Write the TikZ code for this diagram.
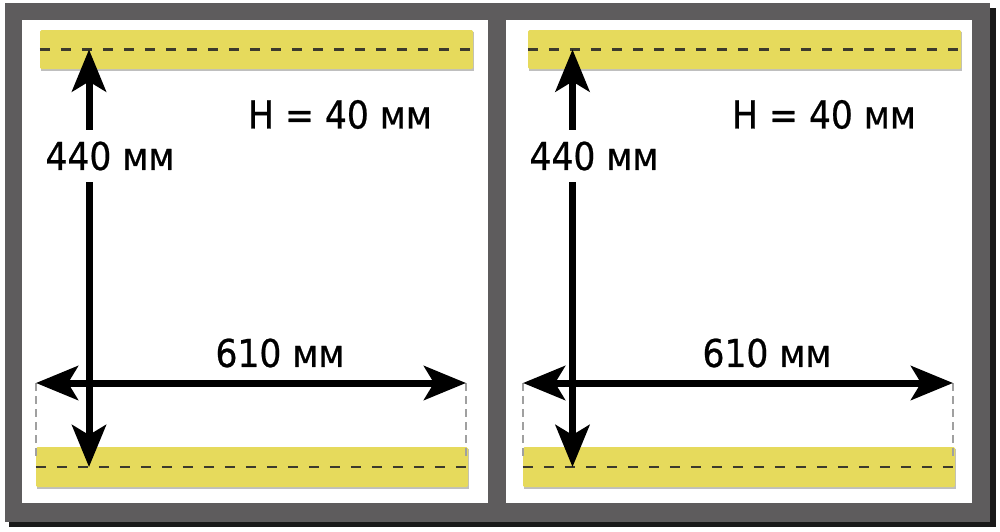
\documentclass[tikz,border=0pt]{standalone}
\usepackage{fontspec}
\setmainfont[FakeBold=0.6]{DejaVu Sans Condensed}
\usetikzlibrary{arrows.meta}
\definecolor{framegray}{RGB}{94,92,93}
\definecolor{baryellow}{RGB}{230,218,92}
\definecolor{dashdark}{RGB}{60,58,45}
\definecolor{guidegray}{RGB}{160,160,160}
\tikzset{
  bar/.style={fill=baryellow, draw=none, rounded corners=1.5pt, inner sep=0pt},
  barshadow/.style={fill=black!25},
  barline/.style={dashdark, line width=2.2pt, dash pattern=on 10pt off 11pt},
  dimarrow/.style={line width=7pt, {Stealth[length=42pt,width=34pt,inset=10pt]}-{Stealth[length=42pt,width=34pt,inset=10pt]}},
  guide/.style={guidegray, line width=1.5pt, dash pattern=on 8pt off 5pt},
  dimlabel/.style={inner sep=0pt, font=\fontsize{38.4}{46}\selectfont},
  gaplabel/.style={dimlabel, fill=white, inner xsep=2pt, inner ysep=11pt}
}
\begin{document}
\begin{tikzpicture}[x=1pt,y=-1pt]
\useasboundingbox (0,0) rectangle (1000,531);
\fill[white] (0,0) rectangle (1000,531);
% frame with shadow
\fill[black!90] (9,8) rectangle (996,527);
\fill[framegray] (5,3) rectangle (990,522);
\fill[white] (22,20) rectangle (488,503);
\fill[white] (506,20) rectangle (972,503);

% ---------- left panel ----------
\fill[barshadow] (41,32) rectangle (474,71);
\node[bar, minimum width=433pt, minimum height=39pt] (LT) at (256.5,49.5) {};
\fill[barshadow] (37,449) rectangle (469,489);
\node[bar, minimum width=432pt, minimum height=40pt] (LB) at (252,467) {};
\draw[barline] (LT.west) -- (LT.east);
\draw[barline] (LB.west) -- (LB.east);

\coordinate (Lvt) at (89,49.5);
\coordinate (Lvb) at (89,467);
\coordinate (Lhl) at (36,383);
\coordinate (Lhr) at (466,383);
\coordinate (Lgl) at (36,458);
\coordinate (Lgr) at (466,458);
\draw[guide] (Lhl) -- (Lgl);
\draw[guide] (Lhr) -- (Lgr);
\draw[dimarrow] (Lvt) -- (Lvb);
\draw[dimarrow] (Lhl) -- (Lhr);

\node[gaplabel] (Lv) at (110,156) {440 мм};
\node[dimlabel] (LH) at (340,114.5) {H = 40 мм};
\node[dimlabel] (Lw) at (280,353) {610 мм};

% ---------- right panel ----------
\fill[barshadow] (529,32) rectangle (962,71);
\node[bar, minimum width=433pt, minimum height=39pt] (RT) at (744.5,49.5) {};
\fill[barshadow] (524,449) rectangle (956,489);
\node[bar, minimum width=432pt, minimum height=40pt] (RB) at (739,467) {};
\draw[barline] (RT.west) -- (RT.east);
\draw[barline] (RB.west) -- (RB.east);

\coordinate (Rvt) at (572.5,49.5);
\coordinate (Rvb) at (572.5,467);
\coordinate (Rhl) at (523,383);
\coordinate (Rhr) at (953,383);
\coordinate (Rgl) at (523,458);
\coordinate (Rgr) at (953,458);
\draw[guide] (Rhl) -- (Rgl);
\draw[guide] (Rhr) -- (Rgr);
\draw[dimarrow] (Rvt) -- (Rvb);
\draw[dimarrow] (Rhl) -- (Rhr);

\node[gaplabel] (Rv) at (594,156) {440 мм};
\node[dimlabel] (RH) at (824,114.5) {H = 40 мм};
\node[dimlabel] (Rw) at (767,353) {610 мм};
\end{tikzpicture}
\end{document}
